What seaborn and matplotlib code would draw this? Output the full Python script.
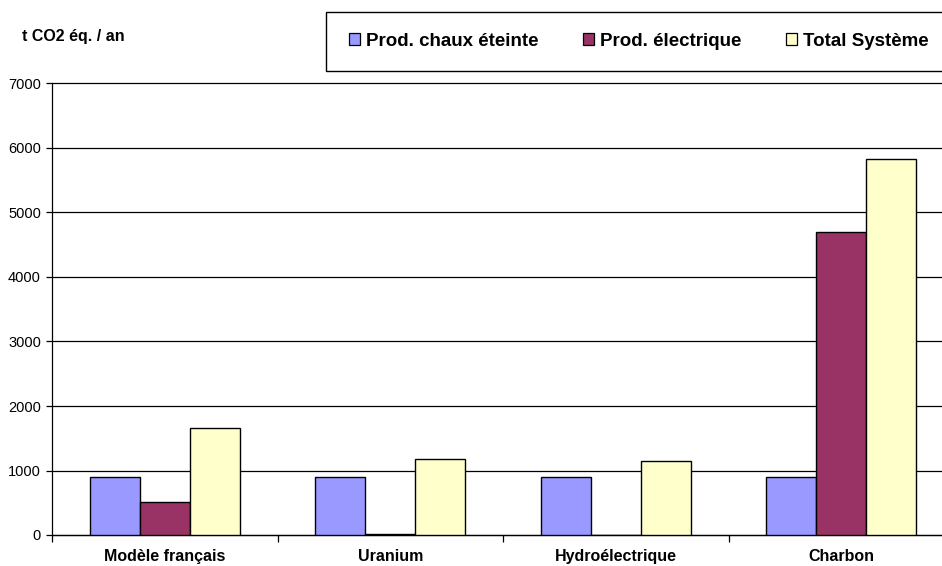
import matplotlib
matplotlib.use('Agg')
import matplotlib.pyplot as plt
import pandas as pd
import seaborn as sns
import numpy as np

# Data
categories = ['Modèle français', 'Uranium', 'Hydroélectrique', 'Charbon']
series = ['Prod. chaux éteinte', 'Prod. électrique', 'Total Système']
chaux = [900, 900, 900, 900]
electrique = [510, 20, 0, 4690]
total = [1660, 1180, 1150, 5830]
colors = ['#9999FF', '#993366', '#FFFFCC']

df = pd.DataFrame({
    'categorie': categories * 3,
    'serie': [series[0]] * 4 + [series[1]] * 4 + [series[2]] * 4,
    'valeur': chaux + electrique + total,
})

sns.set_style('white')
plt.rcParams['font.family'] = ['Liberation Sans', 'DejaVu Sans']
plt.rcParams['text.color'] = 'black'
plt.rcParams['xtick.color'] = 'black'
plt.rcParams['ytick.color'] = 'black'

W, H = 942, 566
fig = plt.figure(figsize=(W / 100, H / 100), dpi=100)
# plot area: left spine at x=52, bottom at y=535, top at y=83.5, runs past right edge
ax = fig.add_axes([52 / W, 1 - 535 / H, (954 - 52) / W, (535 - 83.5) / H])

sns.barplot(data=df, x='categorie', y='valeur', hue='serie', palette=colors,
            width=0.665, edgecolor='black', linewidth=1.0, saturation=1,
            ax=ax, legend=False, zorder=3)

ax.set_ylim(0, 7000)
ax.set_xlim(-0.5, 3.5)
ax.set_yticks(np.arange(0, 7001, 1000))
ax.yaxis.grid(True, color='black', linewidth=0.9, zorder=0)
ax.set_axisbelow(True)
for line in ax.get_ygridlines():
    line.set_clip_on(False)
for s in ['top', 'right']:
    ax.spines[s].set_visible(False)
for s in ['left', 'bottom']:
    ax.spines[s].set_color('black')
    ax.spines[s].set_linewidth(0.9)

ax.set_xlabel('')
ax.set_ylabel('')
ax.tick_params(axis='y', labelsize=10.5, length=4, width=0.9, color='black',
               labelcolor='black', left=True, pad=4)
ax.tick_params(axis='x', which='major', length=0, labelsize=11.5, labelcolor='black', pad=10)
ax.set_xticks(np.arange(-0.5, 3.6, 1), minor=True)
ax.tick_params(axis='x', which='minor', length=5, width=0.9, color='black', bottom=True)
for lbl in ax.get_xticklabels():
    lbl.set_fontweight('bold')

fig.text(22 / W, 1 - 37 / H, 't CO2 éq. / an', fontsize=11.5, fontweight='bold',
         ha='left', va='center')

# legend box running past the right edge
box = plt.Rectangle((326 / W, 1 - 71 / H), (960 - 326) / W, 59 / H,
                    transform=fig.transFigure, facecolor='white', edgecolor='black',
                    linewidth=1.0, clip_on=False)
fig.patches.append(box)

handles = [plt.Rectangle((0, 0), 1, 1, facecolor=c, edgecolor='black', linewidth=0.9)
           for c in colors]
leg = fig.legend(handles, series, ncol=3, loc='center left',
                 bbox_to_anchor=(349 / W, 1 - 41.5 / H),
                 frameon=False, prop={'weight': 'bold', 'size': 13.5},
                 handlelength=0.6, handleheight=0.6, handletextpad=0.32,
                 columnspacing=2.35, borderpad=0, borderaxespad=0)

fig.savefig('out.png', dpi=100)
